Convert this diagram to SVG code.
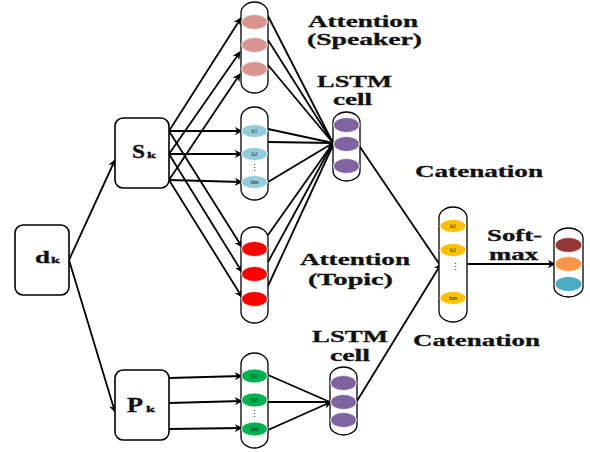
<svg xmlns="http://www.w3.org/2000/svg" width="590" height="452" viewBox="0 0 590 452">
  <style>
    .box { fill: #ffffff; stroke: #000000; stroke-width: 1.6; }
    .col { fill: #ffffff; stroke: #000000; stroke-width: 1.3; }
    .cell { stroke: #ffffff; stroke-width: 0.8; }
    .lbl { font-family: "Liberation Serif", "Times New Roman", serif; font-weight: bold; fill: #111111; stroke: #111111; stroke-width: 0.3; }
    .big { font-size: 16px; }
    .h { font-family: "Liberation Serif", "Times New Roman", serif; font-size: 6px; fill: #222222; text-anchor: middle; }
    .dots { font-family: "Liberation Serif", serif; font-size: 9px; fill: #222222; text-anchor: middle; }
    .wire { fill: none; stroke: #000000; stroke-width: 1.8; }
    .arr { marker-end: url(#tip); }
  </style>
  <defs>
    <marker id="tip" viewBox="0 0 10 10" refX="9" refY="5" markerWidth="8" markerHeight="8" markerUnits="userSpaceOnUse" orient="auto">
      <path d="M0,0 L10,5 L0,10 L3,5 Z" fill="#000000"/>
    </marker>
  </defs>

  <rect width="590" height="452" fill="#ffffff"/>

  <!-- connectors -->
  <g id="connectors">
    <!-- d_k to S_k and P_k -->
    <line class="wire arr" x1="69" y1="260" x2="115" y2="160"/>
    <line class="wire arr" x1="69" y1="260" x2="115" y2="412"/>

    <!-- S_k to speaker attention -->
    <line class="wire arr" x1="169" y1="131" x2="241" y2="18"/>
    <line class="wire arr" x1="169" y1="154" x2="240" y2="52"/>
    <line class="wire arr" x1="169" y1="180" x2="240" y2="74"/>
    <!-- S_k to hidden states -->
    <line class="wire arr" x1="169" y1="131" x2="242" y2="131"/>
    <line class="wire arr" x1="169" y1="154" x2="242" y2="154"/>
    <line class="wire arr" x1="169" y1="180" x2="242" y2="182"/>
    <!-- S_k to topic attention -->
    <line class="wire arr" x1="169" y1="131" x2="242" y2="247"/>
    <line class="wire arr" x1="169" y1="154" x2="242" y2="272"/>
    <line class="wire arr" x1="169" y1="180" x2="242" y2="297"/>

    <!-- into upper LSTM cell -->
    <line class="wire" x1="268" y1="16" x2="333" y2="143"/>
    <line class="wire" x1="268" y1="40" x2="333" y2="143"/>
    <line class="wire" x1="268" y1="65" x2="333" y2="143"/>
    <line class="wire" x1="268" y1="129" x2="333" y2="143"/>
    <line class="wire" x1="268" y1="142" x2="333" y2="143"/>
    <line class="wire" x1="268" y1="182" x2="333" y2="143"/>
    <line class="wire" x1="268" y1="235" x2="333" y2="143"/>
    <line class="wire" x1="268" y1="262" x2="333" y2="143"/>
    <line class="wire arr" x1="268" y1="286" x2="334" y2="143"/>

    <!-- P_k to hidden states -->
    <line class="wire arr" x1="169" y1="378" x2="242" y2="376"/>
    <line class="wire arr" x1="169" y1="403" x2="242" y2="401"/>
    <line class="wire arr" x1="169" y1="429" x2="242" y2="428"/>
    <!-- into lower LSTM cell -->
    <line class="wire" x1="268" y1="375" x2="330" y2="402"/>
    <line class="wire" x1="268" y1="402" x2="330" y2="402"/>
    <line class="wire arr" x1="268" y1="430" x2="331" y2="402"/>

    <!-- LSTM cells to catenation -->
    <line class="wire" x1="360" y1="147" x2="440" y2="265"/>
    <line class="wire arr" x1="357" y1="401" x2="441" y2="264"/>

    <!-- catenation to softmax -->
    <line class="wire arr" x1="467" y1="264" x2="555" y2="264"/>
  </g>

  <!-- input document -->
  <g id="d_k">
    <rect class="box" x="15" y="225" width="54" height="70" rx="8"/>
    <text class="lbl" x="35" y="263" font-size="17" textLength="15" lengthAdjust="spacingAndGlyphs">d</text>
    <text class="lbl" x="51" y="263" font-size="9" textLength="9" lengthAdjust="spacingAndGlyphs">k</text>
  </g>

  <g id="S_k">
    <rect class="box" x="115" y="118" width="54" height="70" rx="8"/>
    <text class="lbl" x="132" y="158" font-size="19" textLength="13" lengthAdjust="spacingAndGlyphs">S</text>
    <text class="lbl" x="147" y="158" font-size="9" textLength="9" lengthAdjust="spacingAndGlyphs">k</text>
  </g>

  <g id="P_k">
    <rect class="box" x="115" y="370" width="54" height="70" rx="8"/>
    <text class="lbl" x="127" y="412" font-size="21" textLength="16" lengthAdjust="spacingAndGlyphs">P</text>
    <text class="lbl" x="146" y="412" font-size="9" textLength="9" lengthAdjust="spacingAndGlyphs">k</text>
  </g>

  <!-- speaker attention column -->
  <g id="att_speaker">
    <rect class="col" x="241" y="2" width="27" height="91" rx="13.5" ry="11"/>
    <ellipse class="cell" cx="254.5" cy="22" rx="13" ry="7.5" fill="#D9958F"/>
    <ellipse class="cell" cx="254.5" cy="45" rx="13" ry="7.5" fill="#D9958F"/>
    <ellipse class="cell" cx="254.5" cy="69" rx="13" ry="7.5" fill="#D9958F"/>
  </g>

  <!-- sentence hidden states -->
  <g id="hidden_s">
    <rect class="col" x="241" y="107" width="27" height="93" rx="13.5" ry="11"/>
    <ellipse class="cell" cx="254.5" cy="131" rx="13" ry="6.5" fill="#92CDDC"/>
    <ellipse class="cell" cx="254.5" cy="154" rx="13" ry="6.5" fill="#92CDDC"/>
    <ellipse class="cell" cx="254.5" cy="182" rx="13" ry="6.5" fill="#92CDDC"/>
    <text class="h" x="254.5" y="133">h1</text>
    <text class="h" x="254.5" y="156">h2</text>
    <text class="dots" x="254.5" y="171">⋮</text>
    <text class="h" x="254.5" y="184">hm</text>
  </g>

  <!-- topic attention column -->
  <g id="att_topic">
    <rect class="col" x="241" y="227" width="27" height="96" rx="13.5" ry="11"/>
    <ellipse class="cell" cx="254.5" cy="249" rx="13" ry="7.5" fill="#FF0000"/>
    <ellipse class="cell" cx="254.5" cy="274" rx="13" ry="7.5" fill="#FF0000"/>
    <ellipse class="cell" cx="254.5" cy="299" rx="13" ry="7.5" fill="#FF0000"/>
  </g>

  <!-- paragraph hidden states -->
  <g id="hidden_p">
    <rect class="col" x="241" y="353" width="27" height="95" rx="13.5" ry="11"/>
    <ellipse class="cell" cx="254.5" cy="376" rx="13" ry="7" fill="#00B050"/>
    <ellipse class="cell" cx="254.5" cy="400" rx="13" ry="7" fill="#00B050"/>
    <ellipse class="cell" cx="254.5" cy="429" rx="13" ry="7" fill="#00B050"/>
    <text class="h" x="254.5" y="378">h1</text>
    <text class="h" x="254.5" y="402">h2</text>
    <text class="dots" x="254.5" y="417">⋮</text>
    <text class="h" x="254.5" y="431">hm</text>
  </g>

  <!-- upper LSTM cell -->
  <g id="lstm_top">
    <rect class="col" x="333" y="112" width="27" height="69" rx="13.5" ry="10"/>
    <ellipse class="cell" cx="346.5" cy="125" rx="13" ry="7.5" fill="#8064A2"/>
    <ellipse class="cell" cx="346.5" cy="144" rx="13" ry="7.5" fill="#8064A2"/>
    <ellipse class="cell" cx="346.5" cy="166" rx="13" ry="7.5" fill="#8064A2"/>
  </g>

  <!-- lower LSTM cell -->
  <g id="lstm_bottom">
    <rect class="col" x="330" y="367" width="27" height="68" rx="13.5" ry="10"/>
    <ellipse class="cell" cx="343.5" cy="383" rx="13" ry="7.5" fill="#8064A2"/>
    <ellipse class="cell" cx="343.5" cy="402" rx="13" ry="7.5" fill="#8064A2"/>
    <ellipse class="cell" cx="343.5" cy="420" rx="13" ry="7.5" fill="#8064A2"/>
  </g>

  <!-- catenation column -->
  <g id="catenation">
    <rect class="col" x="439" y="207" width="28" height="115" rx="14" ry="11"/>
    <ellipse class="cell" cx="453" cy="226" rx="13" ry="6.5" fill="#FFC000"/>
    <ellipse class="cell" cx="453" cy="250" rx="13" ry="6.5" fill="#FFC000"/>
    <ellipse class="cell" cx="453" cy="298" rx="13" ry="6.5" fill="#FFC000"/>
    <text class="h" x="453" y="228">h1</text>
    <text class="h" x="453" y="252">h2</text>
    <text class="dots" x="455" y="270">⋮</text>
    <text class="h" x="453" y="300">hm</text>
  </g>

  <!-- softmax output -->
  <g id="softmax">
    <rect class="col" x="554" y="228" width="29" height="69" rx="14.5" ry="10"/>
    <ellipse class="cell" cx="568.5" cy="245" rx="13.5" ry="7.5" fill="#953735"/>
    <ellipse class="cell" cx="568.5" cy="264" rx="13.5" ry="7.5" fill="#F79646"/>
    <ellipse class="cell" cx="568.5" cy="284" rx="13.5" ry="7.5" fill="#4BACC6"/>
  </g>

  <!-- captions -->
  <g id="captions">
    <text class="lbl big" x="308" y="27" textLength="110" lengthAdjust="spacingAndGlyphs">Attention</text>
    <text class="lbl big" x="307" y="45" textLength="115" lengthAdjust="spacingAndGlyphs">(Speaker)</text>
    <text class="lbl big" x="317" y="87" textLength="75" lengthAdjust="spacingAndGlyphs">LSTM</text>
    <text class="lbl big" x="333" y="105" textLength="39" lengthAdjust="spacingAndGlyphs">cell</text>
    <text class="lbl big" x="415" y="177" textLength="128" lengthAdjust="spacingAndGlyphs">Catenation</text>
    <text class="lbl big" x="487" y="241" textLength="55" lengthAdjust="spacingAndGlyphs">Soft-</text>
    <text class="lbl big" x="489" y="260" textLength="49" lengthAdjust="spacingAndGlyphs">max</text>
    <text class="lbl big" x="300" y="265" textLength="110" lengthAdjust="spacingAndGlyphs">Attention</text>
    <text class="lbl big" x="308" y="285" textLength="85" lengthAdjust="spacingAndGlyphs">(Topic)</text>
    <text class="lbl big" x="312" y="342" textLength="76" lengthAdjust="spacingAndGlyphs">LSTM</text>
    <text class="lbl big" x="330" y="361" textLength="40" lengthAdjust="spacingAndGlyphs">cell</text>
    <text class="lbl big" x="413" y="346" textLength="127" lengthAdjust="spacingAndGlyphs">Catenation</text>
  </g>
</svg>
